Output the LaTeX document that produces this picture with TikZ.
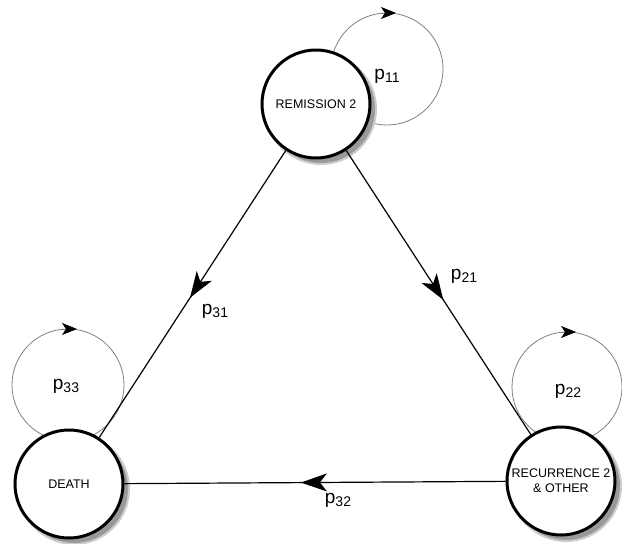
\documentclass[tikz,border=0pt]{standalone}
\usepackage{fontspec}
\setmainfont{Liberation Sans}
\usetikzlibrary{arrows.meta,decorations.markings,calc}
\newcommand{\plab}[1]{{\fontsize{19}{19}\selectfont p}{\fontsize{14}{14}\selectfont\raisebox{-3pt}{#1}}}
\begin{document}
\begin{tikzpicture}[x=1pt,y=-1pt,
  state/.style={circle, draw=black, line width=3pt, fill=white, minimum size=108pt,
    inner sep=0pt, font=\fontsize{12.5}{15}\selectfont, align=center},
  trans/.style={line width=1.2pt, postaction={decorate},
    decoration={markings, mark=at position #1 with {\arrow{Stealth[length=26pt,width=18pt,inset=7pt]}}}},
  trans/.default=0.5,
  loopline/.style={draw=black!50, line width=0.8pt},
  looparrow/.style={draw=black!50, line width=0.8pt, -{Stealth[length=15pt,width=12pt,inset=4pt,black,fill=black]}},
  shadowfill/.style={fill=black!40, draw=black!20, line width=2pt},
  lab/.style={inner sep=0pt}
]
\useasboundingbox (0,0) rectangle (622,544);
% loop centres
\coordinate (c11) at (387,69);
\coordinate (c22) at (567,387);
\coordinate (c33) at (68,385);
\draw[loopline] (c11) circle[radius=56];
\draw[loopline] (c22) circle[radius=55];
\draw[loopline] (c33) circle[radius=56];
\draw[looparrow] ($(c11)+(-6,-56)$) -- ($(c11)+(9,-56)$);
\draw[looparrow] ($(c22)+(-6,-55)$) -- ($(c22)+(9,-55)$);
\draw[looparrow] ($(c33)+(-6,-56)$) -- ($(c33)+(9,-56)$);
% shadows
\filldraw[shadowfill] (321,109) circle (55pt);
\filldraw[shadowfill] (74,489) circle (55pt);
\filldraw[shadowfill] (566,486) circle (55pt);
% states
\node[state] (rem) at (316,104) {REMISSION 2};
\node[state] (death) at (69,484) {DEATH};
\node[state] (rec) at (561,481) {RECURRENCE 2\\\& OTHER};
% transitions
\draw[trans=0.513] (rem) -- (death);
\draw[trans=0.526] (rem) -- (rec);
\draw[trans=0.537] (rec) -- (death);
% labels
\node[lab] (l11) at (387,76) {\plab{11}};
\node[lab] (l22) at (568,391) {\plab{22}};
\node[lab] (l33) at (66,386) {\plab{33}};
\node[lab] (l21) at (464,276) {\plab{21}};
\node[lab] (l31) at (215,311) {\plab{31}};
\node[lab] (l32) at (338,500) {\plab{32}};
\end{tikzpicture}
\end{document}
